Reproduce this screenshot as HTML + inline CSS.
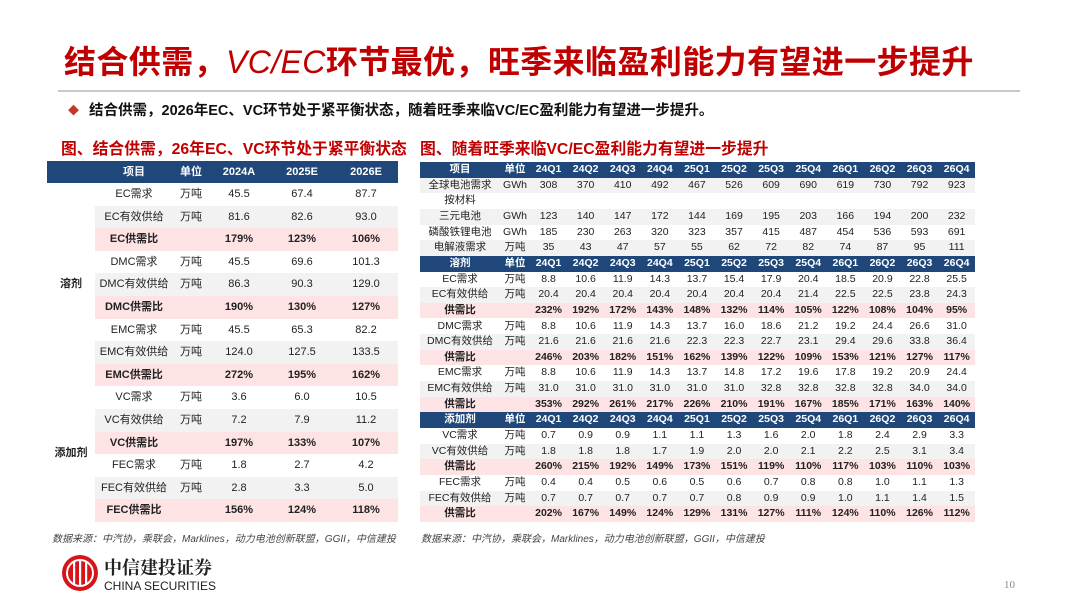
<!DOCTYPE html>
<html><head><meta charset="utf-8">
<style>
*{margin:0;padding:0;box-sizing:border-box}
body{width:1080px;height:608px;background:#fff;position:relative;overflow:hidden;font-family:"Liberation Sans","Noto Sans CJK SC",sans-serif;color:#222}
.abs{position:absolute}
#title{left:64px;top:37px;font-size:32px;font-weight:bold;color:#C00000;white-space:nowrap;letter-spacing:0.4px}
#title i{font-weight:normal}
#rule{left:58px;top:90px;width:962px;height:2px;background:#c8c8c8}
#bullet{left:68px;top:99px;font-size:14.5px;font-weight:bold;color:#111;white-space:nowrap}
#bullet span{color:#C0392B;font-size:11px;margin-right:10px;position:relative;top:-1px}
.cap{top:136px;font-size:15.8px;font-weight:bold;color:#C00000;white-space:nowrap}
.cell{position:absolute;text-align:center;white-space:nowrap;overflow:hidden}
.src{top:530px;font-size:10px;font-style:italic;color:#444;white-space:nowrap}
#logo{left:60px;top:553px}
#pn{left:1004px;top:579px;font-size:11px;color:#888;font-family:"Liberation Serif",serif}
</style></head><body>
<div id="title" class="abs">结合供需，<i>VC/EC</i>环节最优，旺季来临盈利能力有望进一步提升</div>
<div id="rule" class="abs"></div>
<div id="bullet" class="abs"><span>◆</span>结合供需，2026年EC、VC环节处于紧平衡状态，随着旺季来临VC/EC盈利能力有望进一步提升。</div>
<div class="abs cap" style="left:61px">图、结合供需，26年EC、VC环节处于紧平衡状态</div>
<div class="abs cap" style="left:420px">图、随着旺季来临VC/EC盈利能力有望进一步提升</div>
<div id="lt" class="abs" style="left:0;top:0"></div>
<div id="rt" class="abs" style="left:0;top:0"></div>
<div class="abs src" style="left:52px">数据来源：中汽协，乘联会，Marklines，动力电池创新联盟，GGII，中信建投</div>
<div class="abs src" style="left:421px">数据来源：中汽协，乘联会，Marklines，动力电池创新联盟，GGII，中信建投</div>
<div id="logo" class="abs">
<svg width="180" height="42" viewBox="0 0 180 42">
<circle cx="20" cy="20" r="18" fill="#D7141A"/>
<circle cx="20" cy="20" r="13" fill="none" stroke="#fff" stroke-width="2"/>
<rect x="13" y="9" width="2.2" height="22" fill="#fff"/><rect x="19" y="7" width="2.2" height="26" fill="#fff"/><rect x="25" y="9" width="2.2" height="22" fill="#fff"/>
<text x="44" y="21" font-size="18" font-weight="bold" fill="#222" font-family="Noto Serif CJK SC,Noto Sans CJK SC,serif">中信建投证券</text>
<text x="44" y="37" font-size="12" fill="#222" font-family="Liberation Sans,sans-serif">CHINA SECURITIES</text>
</svg></div>
<div id="pn" class="abs">10</div>
<script>
// ---- left table data ----
const leftYears=['2024A','2025E','2026E'];
const leftItems=['EC需求','EC有效供给','EC供需比','DMC需求','DMC有效供给','DMC供需比','EMC需求','EMC有效供给','EMC供需比','VC需求','VC有效供给','VC供需比','FEC需求','FEC有效供给','FEC供需比'];
const leftUnits=['万吨','万吨','','万吨','万吨','','万吨','万吨','','万吨','万吨','','万吨','万吨',''];
const leftVals=[['45.5','67.4','87.7'],['81.6','82.6','93.0'],['179%','123%','106%'],['45.5','69.6','101.3'],['86.3','90.3','129.0'],['190%','130%','127%'],['45.5','65.3','82.2'],['124.0','127.5','133.5'],['272%','195%','162%'],['3.6','6.0','10.5'],['7.2','7.9','11.2'],['197%','133%','107%'],['1.8','2.7','4.2'],['2.8','3.3','5.0'],['156%','124%','118%']];
// ---- right table data ----
const quarters=['24Q1','24Q2','24Q3','24Q4','25Q1','25Q2','25Q3','25Q4','26Q1','26Q2','26Q3','26Q4'];
const rightRows=[
['H','项目'],
['D','全球电池需求','GWh',['308','370','410','492','467','526','609','690','619','730','792','923']],
['D','按材料','',[]],
['D','三元电池','GWh',['123','140','147','172','144','169','195','203','166','194','200','232']],
['D','磷酸铁锂电池','GWh',['185','230','263','320','323','357','415','487','454','536','593','691']],
['D','电解液需求','万吨',['35','43','47','57','55','62','72','82','74','87','95','111']],
['H','溶剂'],
['D','EC需求','万吨',['8.8','10.6','11.9','14.3','13.7','15.4','17.9','20.4','18.5','20.9','22.8','25.5']],
['D','EC有效供给','万吨',['20.4','20.4','20.4','20.4','20.4','20.4','20.4','21.4','22.5','22.5','23.8','24.3']],
['R','供需比','',['232%','192%','172%','143%','148%','132%','114%','105%','122%','108%','104%','95%']],
['D','DMC需求','万吨',['8.8','10.6','11.9','14.3','13.7','16.0','18.6','21.2','19.2','24.4','26.6','31.0']],
['D','DMC有效供给','万吨',['21.6','21.6','21.6','21.6','22.3','22.3','22.7','23.1','29.4','29.6','33.8','36.4']],
['R','供需比','',['246%','203%','182%','151%','162%','139%','122%','109%','153%','121%','127%','117%']],
['D','EMC需求','万吨',['8.8','10.6','11.9','14.3','13.7','14.8','17.2','19.6','17.8','19.2','20.9','24.4']],
['D','EMC有效供给','万吨',['31.0','31.0','31.0','31.0','31.0','31.0','32.8','32.8','32.8','32.8','34.0','34.0']],
['R','供需比','',['353%','292%','261%','217%','226%','210%','191%','167%','185%','171%','163%','140%']],
['H','添加剂'],
['D','VC需求','万吨',['0.7','0.9','0.9','1.1','1.1','1.3','1.6','2.0','1.8','2.4','2.9','3.3']],
['D','VC有效供给','万吨',['1.8','1.8','1.8','1.7','1.9','2.0','2.0','2.1','2.2','2.5','3.1','3.4']],
['R','供需比','',['260%','215%','192%','149%','173%','151%','119%','110%','117%','103%','110%','103%']],
['D','FEC需求','万吨',['0.4','0.4','0.5','0.6','0.5','0.6','0.7','0.8','0.8','1.0','1.1','1.3']],
['D','FEC有效供给','万吨',['0.7','0.7','0.7','0.7','0.7','0.8','0.9','0.9','1.0','1.1','1.4','1.5']],
['R','供需比','',['202%','167%','149%','124%','129%','131%','127%','111%','124%','110%','126%','112%']]
];
const NAVY='#1F477A',GRAY='#F2F2F2',PINK='#FDE3E3';
function box(parent,x,y,w,h,bg,name){const d=document.createElement('div');d.className='cell';d.style.cssText=`left:${x}px;top:${y}px;width:${w}px;height:${h}px;background:${bg}`;


parent.appendChild(d);return d;}
function txt(parent,x,y,w,h,s,size,bold,color,name){const d=document.createElement('div');d.className='cell';d.style.cssText=`left:${x}px;top:${y}px;width:${w}px;height:${h}px;line-height:${h}px;font-size:${size}px;font-weight:${bold?'bold':'normal'};color:${color}`;d.textContent=s;


parent.appendChild(d);return d;}
// left
const lt=document.getElementById('lt');
const LX=47,LW=351,LY=161,LH0=22,LRH=22.6;
const lcols=[[47,48],[95,78],[173,36],[208,62],[270,64],[334,64]];
box(lt,LX,LY,LW,LH0,NAVY,'left-header-row');
txt(lt,95,LY,78,LH0,'项目',11,true,'#fff','header-item');
txt(lt,173,LY,36,LH0,'单位',11,true,'#fff','header-unit');
leftYears.forEach((s,i)=>txt(lt,lcols[3+i][0],LY,lcols[3+i][1],LH0,s,11,true,'#fff','header-year'));
leftItems.forEach((it,r)=>{const y=LY+LH0+r*LRH;const ratio=(r%3==2);
 const bg=ratio?PINK:(r%3==1?GRAY:'#fff');box(lt,95,y,303,LRH,bg,ratio?'ratio-row':'data-row');
 txt(lt,95,y,78,LRH,it,11,ratio,'#222','row-label');
 txt(lt,173,y,36,LRH,leftUnits[r],11,false,'#222','row-unit');
 leftVals[r].forEach((v,i)=>txt(lt,lcols[3+i][0],y,lcols[3+i][1],LRH,v,11,ratio,'#222','value-cell'));});
txt(lt,47,LY+LH0,48,LRH*9,'溶剂',11,true,'#222','group-solvent');
txt(lt,47,LY+LH0+LRH*9,48,LRH*6,'添加剂',11,true,'#222','group-additive');
// right
const rt=document.getElementById('rt');
const RX=420,RY=162,RH=15.65,QX=530,QW=37.1;
let dcount=0;
rightRows.forEach((row,r)=>{const y=RY+r*RH;
 if(row[0]=='H'){box(rt,RX,y,555,RH,NAVY,'section-header');
  txt(rt,RX,y,80,RH,row[1],10.5,true,'#fff','section-title');
  txt(rt,500,y,30,RH,'单位',10.5,true,'#fff','header-unit');
  quarters.forEach((q,i)=>txt(rt,QX+i*QW,y,QW,RH,q,10.5,true,'#fff','header-quarter'));dcount=0;return;}
 const ratio=row[0]=='R';
 const bg=ratio?PINK:(r<6?(dcount%2==0?GRAY:'#fff'):(dcount%3==1?GRAY:'#fff'));dcount++;
 box(rt,RX,y,555,RH,bg,ratio?'ratio-row':'data-row');
 txt(rt,RX,y,80,RH,row[1],10.5,ratio,'#222','row-label');
 txt(rt,500,y,30,RH,row[2],10.5,false,'#222','row-unit');
 row[3].forEach((v,i)=>txt(rt,QX+i*QW,y,QW,RH,v,10.5,ratio,'#222','value-cell'));
});
</script>
</body></html>
